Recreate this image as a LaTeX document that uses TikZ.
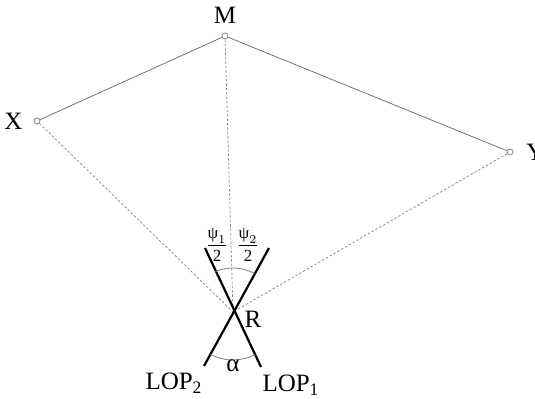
\documentclass[tikz,border=0pt]{standalone}
\usepackage{amsmath}
\usepackage{fontspec}
\setmainfont{Liberation Serif}
\usepackage{tikz}
\usetikzlibrary{
angles,
calc
}

\begin{document}
\begin{tikzpicture}[
x=0.5pt,y=-0.5pt,
font=\fontsize{12.5}{14}\selectfont,
site/.style={circle,draw=gray,fill=white,line width=0.4pt,inner sep=0pt,minimum size=3pt},
baseline/.style={draw=gray!80!black,line width=0.35pt},
sightline/.style={draw=gray,line width=0.35pt,dash pattern=on 1.2pt off 1pt},
lop/.style={draw=black,line width=1.1pt},
anglearc/.style={draw=gray,line width=0.4pt},
halfangle/.style={font=\fontsize{8.5}{10}\selectfont,inner sep=0pt}
]
\useasboundingbox (0,0) rectangle (535,399);

% stations
\coordinate (R) at (233,312);
\node[site] (M) at (225,36) {};
\node[site] (X) at (37,121) {};
\node[site] (Y) at (510,152) {};
\node[above=1pt] at (M.north) {M};
\node[left=2pt] at (X.west) {X};
\node[right=3pt] at (Y.east) {Y};

% baselines and sights
\draw[baseline] (X) -- (M) -- (Y);
\draw[sightline] (M) -- (R);
\draw[sightline] (X) -- (R);
\draw[sightline] (Y) -- (R);

% lines of position
\coordinate (A1) at (205,248);
\coordinate (A2) at (261,367);
\coordinate (B1) at (269,248);
\coordinate (B2) at (204,366);
\draw[lop] (A1) -- (A2);
\draw[lop] (B1) -- (B2);

% angles
\pic[anglearc,angle radius=22pt] {angle=B1--R--A1};
\pic[anglearc,angle radius=24pt] {angle=B2--R--A2};

% labels
\node[halfangle] at (217,245) {$\dfrac{\text{ψ}_1}{\text{2}}$};
\node[halfangle] at (248,245) {$\dfrac{\text{ψ}_2}{\text{2}}$};
\node at (253,319) {R};
\node at (233,366) {α};
\node at (174,383) {LOP\textsubscript{2}};
\node at (291,385) {LOP\textsubscript{1}};

\end{tikzpicture}
\end{document}
